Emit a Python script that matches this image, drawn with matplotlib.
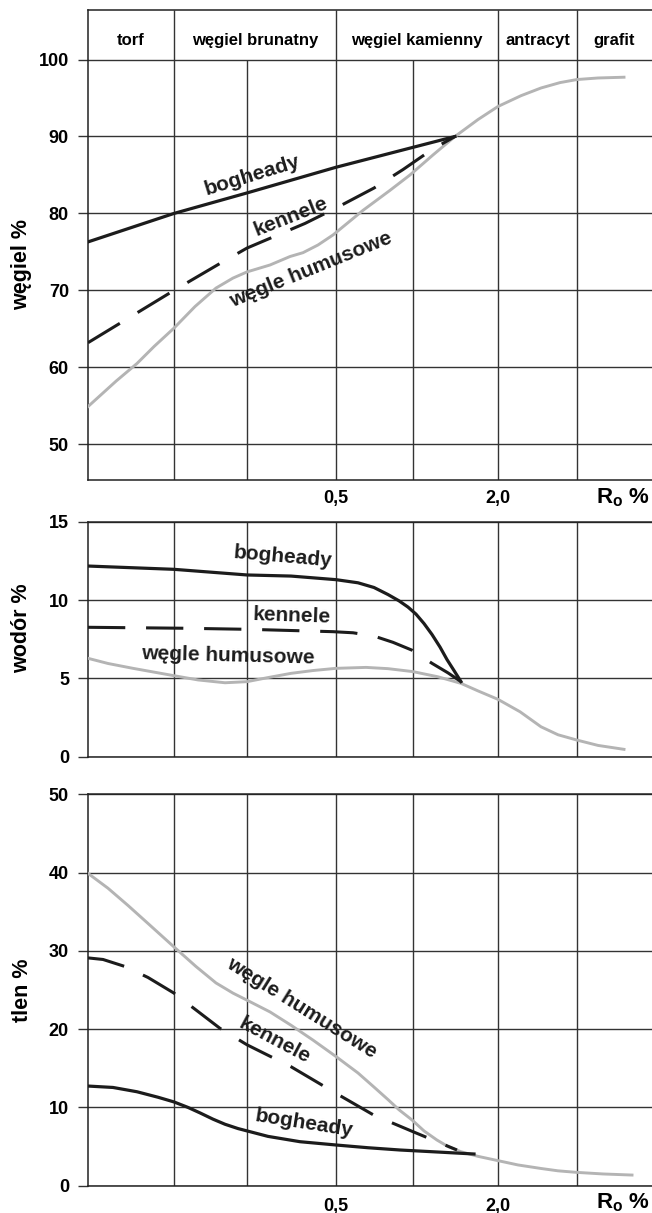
import matplotlib
matplotlib.use('Agg')
import matplotlib.pyplot as plt

plt.rcParams['font.family'] = ['Liberation Sans', 'DejaVu Sans']
plt.rcParams['font.weight'] = 'bold'
plt.rcParams['mathtext.fontset'] = 'custom'
plt.rcParams['mathtext.rm'] = 'Liberation Sans:bold'
plt.rcParams['mathtext.it'] = 'Liberation Sans:bold'

# oś R_o jest schematyczna (nieliniowa) - pozycje w umownych jednostkach
x_max = 5.64
grid_x = [0.86, 1.59, 2.48, 3.25, 4.10, 4.89]
stages = ['torf', 'węgiel brunatny', 'węgiel kamienny', 'antracyt', 'grafit']
stage_edges = [0, 0.86, 2.48, 4.10, 4.89, 5.64]
ro_pos = [2.48, 4.10]
ro_labels = ['0,5', '2,0']

# węgiel %
c_bog_x = [0, 0.86, 1.60, 2.48, 3.67]
c_bog_y = [76.3, 80.0, 82.7, 86.0, 90.0]
c_ken_x = [0, 0.86, 1.32, 1.59, 2.17, 2.48, 2.86, 3.15, 3.44, 3.67]
c_ken_y = [63.2, 70.0, 73.5, 75.5, 78.7, 80.7, 83.3, 85.7, 88.3, 90.0]
c_hum_x = [0, 0.28, 0.49, 0.66, 0.86, 1.07, 1.28, 1.45, 1.59, 1.82, 2.02, 2.15,
           2.30, 2.45, 2.60, 2.75, 3.02, 3.22, 3.45, 3.67, 3.90, 4.10, 4.33,
           4.53, 4.72, 4.89, 5.10, 5.36]
c_hum_y = [54.9, 58.2, 60.5, 62.7, 65.1, 67.9, 70.3, 71.6, 72.4, 73.3, 74.4, 74.9,
           75.9, 77.2, 78.8, 80.4, 83.0, 85.0, 87.6, 90.0, 92.2, 93.9, 95.3,
           96.3, 97.0, 97.4, 97.6, 97.7]

# wodór %
h_bog_x = [0, 0.86, 1.59, 2.03, 2.48, 2.70, 2.86, 3.00, 3.11, 3.20, 3.28, 3.36,
           3.44, 3.52, 3.59, 3.66, 3.73]
h_bog_y = [12.17, 11.96, 11.6, 11.53, 11.3, 11.1, 10.8, 10.35, 9.95, 9.55, 9.1,
           8.5, 7.8, 7.0, 6.2, 5.5, 4.79]
h_ken_x = [0, 0.95, 1.61, 2.45, 2.65, 2.86, 3.05, 3.24, 3.44, 3.60, 3.73]
h_ken_y = [8.26, 8.2, 8.13, 7.98, 7.91, 7.7, 7.3, 6.8, 5.96, 5.35, 4.79]
h_hum_x = [0, 0.20, 0.45, 0.86, 1.10, 1.37, 1.59, 1.80, 2.03, 2.25, 2.48, 2.78,
           3.00, 3.25, 3.50, 3.73, 3.90, 4.10, 4.32, 4.53, 4.70, 4.89, 5.10, 5.36]
h_hum_y = [6.28, 5.95, 5.64, 5.17, 4.9, 4.72, 4.79, 5.05, 5.32, 5.5, 5.64, 5.70,
           5.62, 5.43, 5.1, 4.68, 4.2, 3.66, 2.87, 1.91, 1.4, 1.06, 0.72, 0.47]

# tlen %
o_bog_x = [0, 0.25, 0.49, 0.70, 0.86, 1.00, 1.12, 1.25, 1.37, 1.50, 1.59, 1.80,
           2.12, 2.48, 2.80, 3.12, 3.50, 3.86]
o_bog_y = [12.73, 12.55, 12.0, 11.3, 10.7, 10.0, 9.3, 8.5, 7.85, 7.3, 7.0, 6.3,
           5.62, 5.2, 4.85, 4.56, 4.3, 4.05]
o_ken_x = [0, 0.15, 0.37, 0.60, 0.86, 1.32, 1.59, 2.03, 2.48, 2.86, 3.25, 3.69]
o_ken_y = [29.1, 28.9, 28.0, 26.6, 24.6, 20.1, 18.0, 15.2, 11.8, 9.0, 6.9, 4.56]
o_hum_x = [0, 0.20, 0.40, 0.60, 0.86, 1.08, 1.28, 1.45, 1.59, 1.82, 2.03, 2.25,
           2.48, 2.70, 2.86, 3.00, 3.11, 3.24, 3.36, 3.49, 3.60, 3.73, 3.90,
           4.10, 4.30, 4.53, 4.70, 4.89, 5.15, 5.44]
o_hum_y = [39.9, 38.0, 35.8, 33.5, 30.5, 28.0, 25.9, 24.6, 23.7, 22.2, 20.5, 18.6,
           16.5, 14.4, 12.6, 11.0, 9.7, 8.4, 7.0, 5.83, 5.0, 4.34, 3.75,
           3.2, 2.65, 2.2, 1.9, 1.7, 1.5, 1.36]

# podpisy krzywych: tekst, x, y, kąt
c_notes = [('bogheady', 1.653, 84.3, 17), ('kennele', 2.045, 78.9, 21.5),
           ('węgle humusowe', 2.253, 72.0, 22)]
h_notes = [('bogheady', 1.94, 12.4, -5), ('kennele', 2.03, 8.62, -2),
           ('węgle humusowe', 1.40, 6.11, -1.5)]
o_notes = [('węgle humusowe', 2.11, 22.1, -32), ('kennele', 1.837, 17.9, -28),
           ('bogheady', 2.153, 7.33, -9)]

BLACK = '#1c1c1c'
GREY = '#b4b4b4'
GRID = '#333333'

W, H = 652, 1213
fig = plt.figure(figsize=(W / 100, H / 100), dpi=100)


def make_axes(top_px, bottom_px):
    return fig.add_axes([88 / W, 1 - bottom_px / H, 1 - 88 / W,
                         (bottom_px - top_px) / H])


def panel(ax, ylim, yticks, ylabel, ylab_y, xs, notes, vtop=None, xlabels=True,
          xpad=7.5, ro_y=-0.05):
    ax.set_xlim(0, x_max)
    ax.set_ylim(*ylim)
    ax.set_yticks(yticks)
    ax.tick_params(axis='y', length=7.2, width=1.0, pad=6.5, labelsize=13,
                   color=GRID)
    for y in yticks:
        ax.axhline(y, color=GRID, lw=1.0, zorder=1)
    for x in grid_x:
        top = ylim[1]
        if vtop is not None and x not in stage_edges:
            top = vtop
        ax.vlines(x, ylim[0], top, color=GRID, lw=1.0, zorder=1)
    ax.spines['right'].set_visible(False)
    for s in ['left', 'bottom', 'top']:
        ax.spines[s].set_color('#222222')
        ax.spines[s].set_linewidth(1.1)
    if xlabels:
        ax.set_xticks(ro_pos)
        ax.set_xticklabels(ro_labels)
        ax.tick_params(axis='x', length=0, pad=xpad, labelsize=13)
        ax.text(0.996, ro_y, r'R$_{\mathrm{o}}$ %', transform=ax.transAxes,
                ha='right', va='baseline', fontsize=16)
    else:
        ax.set_xticks([])
    ax.text(-0.117, ylab_y, ylabel, transform=ax.transAxes, rotation=90,
            ha='center', va='center', fontsize=15.5)

    (bx, by), (kx, ky), (hx, hy) = xs
    ax.plot(hx, hy, color=GREY, lw=2.1, zorder=3, solid_joinstyle='round')
    ax.plot(kx, ky, color=BLACK, lw=2.2, dashes=(12.2, 6.8), zorder=4)
    ax.plot(bx, by, color=BLACK, lw=2.3, zorder=5, solid_joinstyle='round')
    for txt, x, y, r in notes:
        ax.text(x, y, txt, ha='center', va='baseline', rotation=r,
                rotation_mode='anchor', fontsize=15, color=BLACK, zorder=6)


ax1 = make_axes(9.5, 480)
panel(ax1, (45.36, 106.5), [50, 60, 70, 80, 90, 100], 'węgiel %', 0.457,
      [(c_bog_x, c_bog_y), (c_ken_x, c_ken_y), (c_hum_x, c_hum_y)], c_notes,
      vtop=100, ro_y=-0.049)
for name, a, b in zip(stages, stage_edges[:-1], stage_edges[1:]):
    ax1.text((a + b) / 2, 101.9, name, ha='center', va='baseline', fontsize=12)

ax2 = make_axes(521.7, 756.7)
panel(ax2, (0, 15), [0, 5, 10, 15], 'wodór %', 0.548,
      [(h_bog_x, h_bog_y), (h_ken_x, h_ken_y), (h_hum_x, h_hum_y)], h_notes,
      xlabels=False)

ax3 = make_axes(794.3, 1185.7)
panel(ax3, (0, 50), [0, 10, 20, 30, 40, 50], 'tlen %', 0.5,
      [(o_bog_x, o_bog_y), (o_ken_x, o_ken_y), (o_hum_x, o_hum_y)], o_notes,
      xpad=9, ro_y=-0.057)

fig.savefig('out.png', dpi=100)
plt.close(fig)
